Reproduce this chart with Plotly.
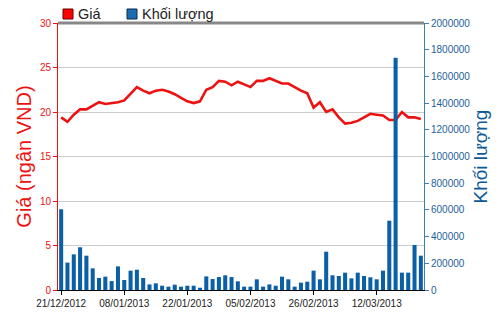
import plotly.graph_objects as go

dates = [
    "21/12/2012", "24/12/2012", "25/12/2012", "26/12/2012", "27/12/2012", "28/12/2012",
    "02/01/2013", "03/01/2013", "04/01/2013", "07/01/2013",
    "08/01/2013", "09/01/2013", "10/01/2013", "11/01/2013", "14/01/2013",
    "15/01/2013", "16/01/2013", "17/01/2013", "18/01/2013", "21/01/2013",
    "22/01/2013", "23/01/2013", "24/01/2013", "25/01/2013", "28/01/2013",
    "29/01/2013", "30/01/2013", "31/01/2013", "01/02/2013", "04/02/2013",
    "05/02/2013", "06/02/2013", "07/02/2013", "08/02/2013", "18/02/2013",
    "19/02/2013", "20/02/2013", "21/02/2013", "22/02/2013", "25/02/2013",
    "26/02/2013", "27/02/2013", "28/02/2013", "01/03/2013", "04/03/2013",
    "05/03/2013", "06/03/2013", "07/03/2013", "08/03/2013", "11/03/2013",
    "12/03/2013", "13/03/2013", "14/03/2013", "15/03/2013", "18/03/2013",
    "19/03/2013", "20/03/2013", "21/03/2013",
]

price = [
    19.4, 18.9, 19.7, 20.3, 20.3, 20.7, 21.1, 20.9, 21.0, 21.1,
    21.3, 22.1, 22.8, 22.4, 22.1, 22.4, 22.5, 22.3, 22.0, 21.6,
    21.2, 21.0, 21.2, 22.5, 22.8, 23.5, 23.4, 23.0, 23.4, 23.1,
    22.8, 23.5, 23.5, 23.8, 23.5, 23.2, 23.2, 22.8, 22.4, 22.1,
    20.5, 21.1, 20.0, 20.3, 19.4, 18.7, 18.8, 19.0, 19.4, 19.8,
    19.7, 19.6, 19.1, 19.1, 20.0, 19.4, 19.4, 19.2,
]

volume = [
    605000, 205000, 267000, 320000, 257000, 162000, 90000, 100000, 67000, 177000,
    75000, 145000, 152000, 90000, 42000, 50000, 32000, 25000, 40000, 25000,
    32000, 32000, 17000, 102000, 82000, 97000, 110000, 97000, 65000, 25000,
    25000, 80000, 25000, 42000, 32000, 100000, 80000, 25000, 55000, 62000,
    145000, 80000, 287000, 110000, 105000, 130000, 87000, 130000, 105000, 95000,
    80000, 145000, 519000, 1740000, 130000, 130000, 337000, 257000,
]

tick_labels = ["21/12/2012", "08/01/2013", "22/01/2013", "05/02/2013", "26/02/2013", "12/03/2013"]

series_names = ["Giá", "Khối lượng"]

RED = "#ee1111"
BLUE = "#0a5fa6"
AXBLUE = "#3a7fb8"
NARROW = "Liberation Sans, Arial, sans-serif"
SANS = "Liberation Sans, Arial, sans-serif"

# plot area in pixels (for placing the hand-drawn legend)
W, H = 500, 312
ML, MR, MT, MB = 58, 76, 23, 22
PW, PH = W - ML - MR, H - MT - MB


def px(xp):
    return (xp - ML) / PW


def py(yp):
    return (H - MB - yp) / PH


fig = go.Figure()

fig.add_trace(go.Scatter(
    x=dates, y=price, mode="lines", yaxis="y",
    line=dict(color=RED, width=2.6), showlegend=False, name=series_names[0],
))
fig.add_trace(go.Bar(
    x=dates, y=volume, yaxis="y2", marker=dict(color=BLUE, line=dict(width=0)),
    showlegend=False, name=series_names[1],
))

shapes = [dict(
    type="line", xref="paper", yref="paper", x0=0, x1=1, y0=1, y1=1,
    line=dict(color="#888888", width=3),
)]
annotations = []
legend_items = [(63, "#ff0000", "#660000", series_names[0]),
                (127, "#1c6cb0", "#0a2a50", series_names[1])]
for x0, fill, edge, label in legend_items:
    shapes.append(dict(
        type="rect", xref="paper", yref="paper",
        x0=px(x0), x1=px(x0 + 10), y0=py(19), y1=py(9),
        fillcolor=fill, line=dict(color=edge, width=1),
    ))
    annotations.append(dict(
        xref="paper", yref="paper", x=px(x0 + 13), y=py(14),
        xanchor="left", yanchor="middle", showarrow=False,
        text=label, font=dict(family=SANS, size=14.5, color="#222222"),
    ))

fig.update_layout(
    width=W, height=H,
    margin=dict(l=ML, r=MR, t=MT, b=MB, autoexpand=False),
    paper_bgcolor="white", plot_bgcolor="white",
    font=dict(family=NARROW, size=10),
    bargap=0.36,
    showlegend=False,
    xaxis=dict(
        type="category", categoryorder="array", categoryarray=dates,
        range=[-0.5, len(dates) - 0.5],
        tickmode="array", tickvals=tick_labels, ticktext=tick_labels,
        ticks="outside", ticklen=4, tickcolor="#000000",
        showline=True, linecolor="#000000", linewidth=1,
        showgrid=False, tickfont=dict(family=NARROW, size=10, color="#222222"),
        zeroline=False,
    ),
    yaxis=dict(
        range=[0, 30], dtick=5, tick0=0,
        showline=True, linecolor=RED, linewidth=1,
        ticks="outside", ticklen=4, tickcolor=RED,
        tickfont=dict(family=NARROW, size=10, color=RED),
        showgrid=True, gridcolor="#cccccc", gridwidth=1,
        zeroline=False,
        title=dict(text="Giá (ngân VND)", font=dict(family=SANS, size=20, color=RED), standoff=2),
    ),
    yaxis2=dict(
        overlaying="y", side="right",
        range=[0, 2000000], dtick=200000, tick0=0, tickformat="d",
        showline=True, linecolor=AXBLUE, linewidth=1,
        ticks="outside", ticklen=4, tickcolor=AXBLUE,
        tickfont=dict(family=NARROW, size=10, color="#1e5f9a"),
        showgrid=False, zeroline=False,
        title=dict(text="Khối lượng", font=dict(family=SANS, size=19, color="#0d5a96"), standoff=2),
    ),
    shapes=shapes,
    annotations=annotations,
)

fig.write_html("out.html")
